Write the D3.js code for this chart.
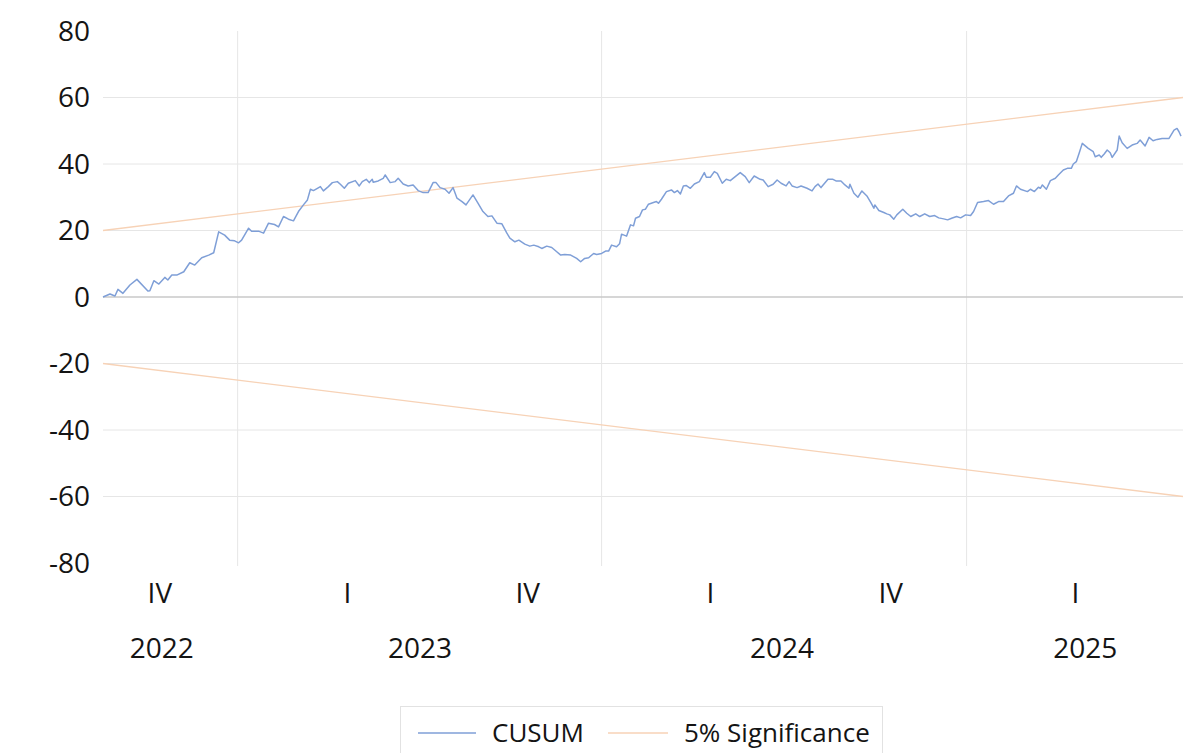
<!DOCTYPE html>
<html>
<head>
<meta charset="utf-8">
<script src="https://cdn.jsdelivr.net/npm/d3@7"></script>
<style>
  body { margin: 0; background: #fff; }
  text { font-family: "Open Sans", "Noto Sans", sans-serif; fill: #141414; }
</style>
</head>
<body>
<svg width="1197" height="753"></svg>
<script>
// CUSUM observations: [days since first observation, value]
var cusum = [
  [0,0],[7,0.9],[12,0.3],[15,2.3],[20,1.1],[27,3.6],[34,5.3],[45,1.8],[47,1.9],[51,4.9],
  [56,3.9],[62,5.9],[65,5.1],[69,6.6],[74,6.6],[81,7.6],[87,10.3],[92,9.6],[99,11.8],[106,12.6],
  [111,13.3],[116,19.6],[122,18.6],[127,17.1],[132,16.9],[136,16.3],[139,17.1],[146,20.7],[149,19.8],[156,19.8],
  [161,19.2],[166,22.2],[172,21.8],[176,21.1],[181,24.2],[186,23.4],[191,22.9],[196,25.7],[201,27.7],[205,29.2],
  [208,32.4],[211,32],[215,32.7],[218,33.2],[221,31.9],[226,33.2],[230,34.4],[235,34.7],[238,33.9],[242,32.7],
  [246,34.2],[253,35],[257,33.4],[260,34.7],[264,35.4],[267,34.4],[270,35.4],[271,34.5],[276,34.9],[281,35.7],
  [283,36.7],[288,34.4],[293,34.7],[296,35.7],[301,34],[306,33.4],[311,33.7],[316,32],[321,31.4],[326,31.4],
  [331,34.4],[334,34.4],[338,32.9],[343,32.4],[347,31.2],[351,32.9],[355,29.7],[360,28.7],[364,27.7],[371,30.7],
  [376,28.2],[381,25.7],[386,24.2],[390,24.4],[395,22.2],[400,22],[405,19.2],[408,17.7],[413,16.6],[417,17.1],
  [423,15.9],[428,15.3],[432,15.6],[437,15.1],[440,14.6],[445,15.3],[450,14.9],[455,13.6],[459,12.6],[463,12.8],
  [469,12.6],[475,11.6],[479,10.6],[483,11.6],[487,11.8],[492,13.1],[495,12.8],[500,13.1],[504,13.8],[507,13.8],
  [510,15.6],[515,15.1],[518,16],[520,18.9],[525,18.3],[529,21.7],[532,21.4],[534,23.7],[538,24.2],[541,26.2],
  [544,26.4],[547,27.9],[552,28.4],[555,28.7],[557,28.2],[560,29.4],[565,31.7],[570,32.2],[573,31.4],[576,32],
  [579,31],[582,33.4],[585,33.5],[589,32.7],[593,34],[598,34.7],[603,37.4],[605,36],[609,36],[613,37.7],
  [616,37.2],[621,34.2],[625,35.4],[629,35],[634,36.2],[639,37.4],[644,36.2],[648,34.4],[653,36.4],[659,35.4],
  [662,35.2],[667,33.2],[672,33.9],[676,35.2],[680,34.2],[685,33.4],[688,34.7],[691,33.4],[696,32.9],[700,33.4],
  [706,32.7],[711,31.9],[714,33.2],[717,34],[720,32.9],[727,35.4],[732,35.4],[735,34.9],[740,34.9],[744,33.7],
  [748,32.7],[749,33.9],[753,31.2],[757,30],[761,31.9],[766,30.4],[770,28.4],[773,26.7],[774,27.7],[778,26],
  [783,25.4],[786,25],[789,24.7],[793,23.4],[796,24.7],[802,26.4],[806,25.2],[810,24.2],[815,25],[819,24.2],
  [824,25],[829,24.2],[834,24.5],[838,23.8],[843,23.5],[847,23.2],[851,23.7],[856,24.2],[860,23.8],[865,24.7],
  [870,24.5],[873,25.7],[877,28.4],[883,28.7],[888,29],[893,27.9],[898,28.7],[903,28.7],[908,30.4],[913,31.2],
  [916,33.4],[920,32.4],[927,31.7],[930,32.4],[934,31.7],[938,33],[940,32.7],[942,33.7],[946,32.4],[950,35],
  [955,35.7],[958,36.7],[963,38.2],[967,38.7],[971,38.7],[973,40],[976,40.7],[979,43.4],[982,46.2],[988,44.7],
  [993,43.7],[995,42.2],[999,42.7],[1001,42],[1004,43],[1007,44.2],[1010,43.4],[1012,42],[1017,44.2],[1019,48.4],
  [1022,46.4],[1027,44.7],[1032,45.7],[1037,46.2],[1040,47.2],[1045,45.4],[1049,48],[1053,47],[1057,47.4],[1062,47.7],
  [1069,47.7],[1074,50.2],[1077,50.7],[1079,49.7],[1081,48.4]
];

var sigDays = [0, 1083];
var sigUpper = [20, 60];
var sigLower = [-20, -60];

var yTicks = [80, 60, 40, 20, 0, -20, -40, -60, -80];
var yearStarts = ['2023-01-01', '2024-01-01', '2025-01-01'];
var quarterTicks = [
  ['2022-10-15', 'IV'], ['2023-04-21', 'I'], ['2023-10-19', 'IV'],
  ['2024-04-19', 'I'], ['2024-10-17', 'IV'], ['2025-04-20', 'I']
];
var yearTicks = [
  ['2022-10-17', '2022'], ['2023-07-03', '2023'], ['2024-06-30', '2024'], ['2025-04-30', '2025']
];

(function draw() {
  var firstDay = new Date(2022, 7, 19), lastDay = new Date(2025, 7, 6);
  var parse = d3.timeParse('%Y-%m-%d');
  var dayToDate = function (d) { return d3.timeDay.offset(firstDay, d); };

  var svg = d3.select('svg');
  var plotLeft = 103, plotRight = 1183, plotTop = 31, plotBottom = 563;

  var x = d3.scaleTime().domain([firstDay, lastDay]).range([plotLeft, plotRight]);
  var y = d3.scaleLinear().domain([-80, 80]).range([plotBottom, plotTop]);

  // horizontal grid
  svg.append('g').selectAll('line')
    .data(yTicks.filter(function (d) { return d !== 0 && Math.abs(d) !== 80; }))
    .enter().append('line')
    .attr('x1', plotLeft).attr('x2', plotRight)
    .attr('y1', function (d) { return y(d); }).attr('y2', function (d) { return y(d); })
    .attr('stroke', '#e6e6e6').attr('stroke-width', 1);

  // vertical year grid
  svg.append('g').selectAll('line')
    .data(yearStarts)
    .enter().append('line')
    .attr('x1', function (d) { return x(parse(d)); }).attr('x2', function (d) { return x(parse(d)); })
    .attr('y1', plotTop).attr('y2', plotBottom + 3)
    .attr('stroke', '#e6e6e6').attr('stroke-width', 1);

  // zero line
  svg.append('line')
    .attr('x1', plotLeft).attr('x2', plotRight)
    .attr('y1', y(0)).attr('y2', y(0))
    .attr('stroke', '#c8c8c8').attr('stroke-width', 1.6);

  // y labels
  svg.append('g').selectAll('text')
    .data(yTicks)
    .enter().append('text')
    .attr('x', 90).attr('y', function (d) { return y(d); })
    .attr('dy', '0.35em')
    .attr('text-anchor', 'end')
    .style('font-size', '28px')
    .text(function (d) { return d; });

  // x labels
  svg.append('g').selectAll('text')
    .data(quarterTicks)
    .enter().append('text')
    .attr('x', function (d) { return x(parse(d[0])); })
    .attr('y', 603)
    .attr('text-anchor', 'middle')
    .style('font-size', '28px')
    .text(function (d) { return d[1]; });

  svg.append('g').selectAll('text')
    .data(yearTicks)
    .enter().append('text')
    .attr('x', function (d) { return x(parse(d[0])); })
    .attr('y', 658)
    .attr('text-anchor', 'middle')
    .style('font-size', '28px')
    .text(function (d) { return d[1]; });

  var line = d3.line()
    .x(function (d) { return x(dayToDate(d[0])); })
    .y(function (d) { return y(d[1]); });

  // significance bounds
  [sigUpper, sigLower].forEach(function (vals) {
    svg.append('path')
      .datum(sigDays.map(function (d, i) { return [d, vals[i]]; }))
      .attr('d', line)
      .attr('fill', 'none')
      .attr('stroke', '#f7d2b6')
      .attr('stroke-width', 1.3);
  });

  // CUSUM
  svg.append('path')
    .datum(cusum)
    .attr('d', line)
    .attr('fill', 'none')
    .attr('stroke', '#7f9fd7')
    .attr('stroke-width', 1.5)
    .attr('stroke-linejoin', 'round');

  // legend
  var lg = svg.append('g');
  lg.append('rect')
    .attr('x', 400.5).attr('y', 706.5).attr('width', 482).attr('height', 60)
    .attr('fill', '#fff').attr('stroke', '#e2e2e2');
  lg.append('line').attr('x1', 418).attr('x2', 476).attr('y1', 733).attr('y2', 733)
    .attr('stroke', '#7f9fd7').attr('stroke-width', 1.5);
  lg.append('text').attr('x', 492).attr('y', 733).attr('dy', '0.35em')
    .style('font-size', '26px').text('CUSUM');
  lg.append('line').attr('x1', 608).attr('x2', 668).attr('y1', 733).attr('y2', 733)
    .attr('stroke', '#f7d2b6').attr('stroke-width', 1.3);
  lg.append('text').attr('x', 684).attr('y', 733).attr('dy', '0.35em')
    .style('font-size', '26px').text('5% Significance');
})();
</script>
</body>
</html>
